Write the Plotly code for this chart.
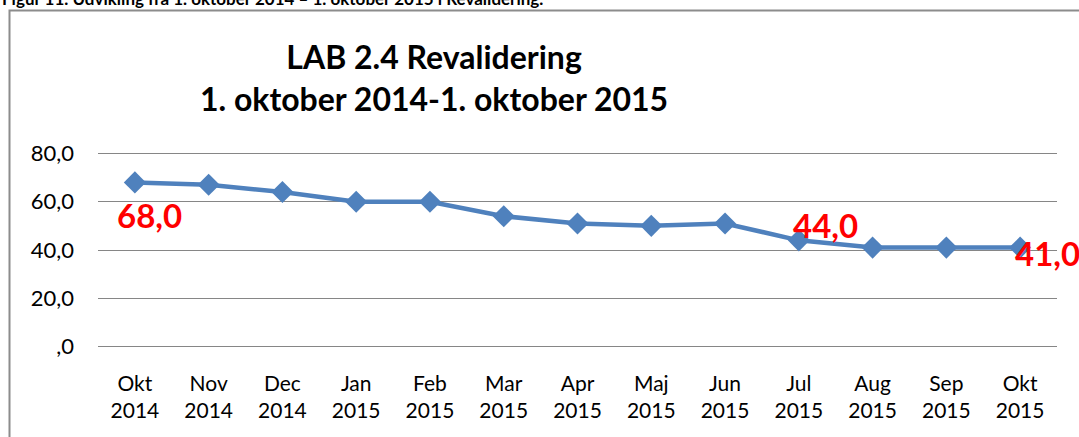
import plotly.graph_objects as go

months = ["Okt<br>2014", "Nov<br>2014", "Dec<br>2014", "Jan<br>2015", "Feb<br>2015", "Mar<br>2015",
          "Apr<br>2015", "Maj<br>2015", "Jun<br>2015", "Jul<br>2015", "Aug<br>2015", "Sep<br>2015", "Okt<br>2015"]
values = [68, 67, 64, 60, 60, 54, 51, 50, 51, 44, 41, 41, 41]
labelled = [0, 9, 12]
label_shift = {0: (15, -33), 9: (27, 15), 12: (27, -5)}
y_ticks = [0, 20, 40, 60, 80]
y_tick_text = [",0", "20,0", "40,0", "60,0", "80,0"]

W, H = 1079, 437
pad = 1.0  # range padding so the 0 and 80 gridlines are drawn
ppu = 194 / 80  # pixels per unit
L, R = 98, 22
T, B = 153 - pad * ppu, 90 - pad * ppu
pw, ph = W - L - R, H - T - B
y_bottom_px = H - B  # pixel row of paper y=0


def py(pixel_row):
    """paper y fraction for a pixel row measured from the top"""
    return (y_bottom_px - pixel_row) / ph


def px(pixel_col):
    return (pixel_col - L) / pw


FONT = "Lato"

fig = go.Figure()
fig.add_trace(go.Scatter(
    x=months, y=values, mode="lines+markers",
    line=dict(color="#4F81BD", width=4.5),
    marker=dict(symbol="diamond", size=17, color="#4F81BD"),
    showlegend=False, hoverinfo="skip",
))

anns = []
for i in labelled:
    dx, dy = label_shift[i]
    anns.append(dict(x=months[i], y=values[i], xref="x", yref="y",
                     text=f"{values[i]},0", showarrow=False,
                     xshift=dx, yshift=dy,
                     font=dict(family=FONT, size=33, color="#FF0000", weight="bold")))

anns.append(dict(xref="paper", yref="paper", x=px(434), y=py(76.5),
                 text="LAB 2.4 Revalidering<br>1. oktober 2014-1. oktober 2015",
                 showarrow=False, xanchor="center", yanchor="middle",
                 font=dict(family=FONT, size=32, color="#000000", weight="bold")))
anns.append(dict(xref="paper", yref="paper", x=px(0), y=py(-3),
                 text="Figur 11. Udvikling fra 1. oktober 2014 – 1. oktober 2015 i Revalidering.",
                 showarrow=False, xanchor="left", yanchor="middle",
                 font=dict(family=FONT, size=17, color="#000000", weight="bold")))

fig.update_layout(
    width=W, height=H,
    margin=dict(l=L, r=R, t=T, b=B),
    paper_bgcolor="white", plot_bgcolor="white",
    annotations=anns,
    shapes=[dict(type="rect", xref="paper", yref="paper",
                 x0=px(9.5), x1=px(W + 20),
                 y0=py(H + 20), y1=py(9.5),
                 line=dict(color="#8C8C8C", width=2), layer="below")],
    xaxis=dict(type="category", range=[-0.5, len(months) - 0.5],
               showgrid=False, showline=False, ticks="", zeroline=False,
               ticklabelstandoff=20,
               tickfont=dict(family=FONT, size=21, color="#000000")),
    yaxis=dict(range=[-pad, 80 + pad], tickvals=y_ticks, ticktext=y_tick_text,
               showgrid=True, gridcolor="#868686", gridwidth=1,
               zeroline=False, showline=False, ticks="",
               ticklabelstandoff=23,
               tickfont=dict(family=FONT, size=22, color="#000000")),
)

fig.write_html("out.html", config={"displayModeBar": False},
               post_script="document.body.style.margin='0';document.body.style.overflow='hidden';")
